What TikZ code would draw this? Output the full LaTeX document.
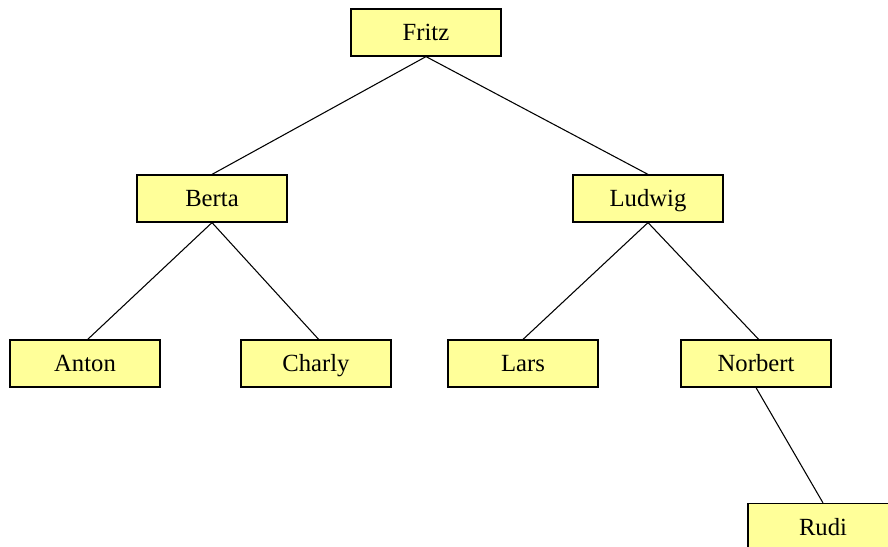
\documentclass[tikz,border=0pt]{standalone}
\usepackage{fontspec}
\setmainfont{Liberation Serif}
\begin{document}
\begin{tikzpicture}[x=0.75pt,y=-0.75pt,
  person/.style={draw=black,line width=0.9pt,fill=yellowbox,minimum width=112.5pt,minimum height=35.25pt,inner sep=0pt,text height=14pt,text depth=2pt,font=\fontsize{18.5}{20}\selectfont},
  link/.style={draw=black,line width=0.8pt}]
\definecolor{yellowbox}{HTML}{FFFF99}
\useasboundingbox (0,0) rectangle (888,546);
\clip (0,0) rectangle (888,546);
\node[person] (fritz) at (426,32.5) {Fritz};
\node[person] (berta) at (212,198.5) {Berta};
\node[person] (ludwig) at (648,198.5) {Ludwig};
\node[person] (anton) at (85,363.5) {Anton};
\node[person] (charly) at (316,363.5) {Charly};
\node[person] (lars) at (523,363.5) {Lars};
\node[person] (norbert) at (756,363.5) {Norbert};
\node[person] (rudi) at (823,527) {Rudi};
\draw[link] (fritz.south) -- (berta.north);
\draw[link] (fritz.south) -- (ludwig.north);
\draw[link] (berta.south) -- ([xshift=2]anton.north);
\draw[link] (berta.south) -- ([xshift=2]charly.north);
\draw[link] (ludwig.south) -- (lars.north);
\draw[link] (ludwig.south) -- ([xshift=2]norbert.north);
\draw[link] (norbert.south) -- (rudi.north);
\end{tikzpicture}
\end{document}
